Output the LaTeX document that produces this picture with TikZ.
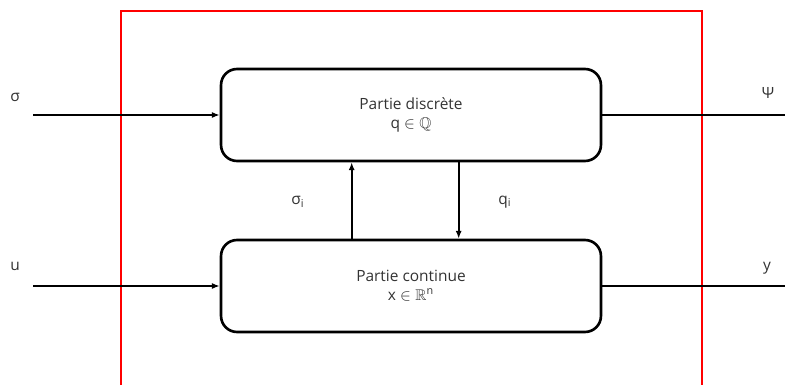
\documentclass[tikz,border=0pt]{standalone}
\usepackage{fontspec}
\usepackage{amssymb}
\setmainfont{Open Sans}
\usetikzlibrary{arrows.meta,positioning}

\begin{document}
\begin{tikzpicture}[x=0.02cm,y=-0.02cm,>={Latex[length=4.5pt,width=3.5pt]},
  font=\fontsize{8.8}{11}\selectfont,
  block/.style={draw,line width=1.5pt,rounded corners=0.32cm,
    minimum width=7.6cm,minimum height=1.84cm,align=center,text=black!80},
  sig/.style={line width=1.1pt},
  lbl/.style={text=black!80}]
  \useasboundingbox (0,0) rectangle (785,385);

  % frontiere du systeme hybride
  \draw[red,line width=1.6pt] (121,385) -- (121,11) -- (702,11) -- (702,385);

  \node[block] (disc) at (411,115) {Partie discrète\\q $\in\mathbb{Q}$};
  \node[block] (cont) at (411,286) {Partie continue\\x $\in\mathbb{R}^{\mathrm{n}}$};

  % entrees et sorties
  \coordinate (in1) at (33,115);
  \coordinate (in2) at (33,286);
  \coordinate (out1) at (785,115);
  \coordinate (out2) at (785,286);
  \draw[sig,->] (in1) -- (disc.west);
  \draw[sig,->] (in2) -- (cont.west);
  \draw[sig] (disc.east) -- (out1);
  \draw[sig] (cont.east) -- (out2);

  % couplage entre les deux parties
  \draw[sig,->] ([xshift=2.64cm]cont.north west) -- ([xshift=2.64cm]disc.south west);
  \draw[sig,->] ([xshift=4.78cm]disc.south west) -- ([xshift=4.78cm]cont.north west);

  \node[lbl] (lsig) at (15,97) {σ};
  \node[lbl] (lu) at (15,266) {u};
  \node[lbl] (lpsi) at (768,93) {Ψ};
  \node[lbl] (ly) at (767,268) {y};
  \node[lbl] (lsigi) at (298,202) {σ\textsubscript{i}};
  \node[lbl] (lqi) at (505,202) {q\textsubscript{i}};
\end{tikzpicture}
\end{document}
